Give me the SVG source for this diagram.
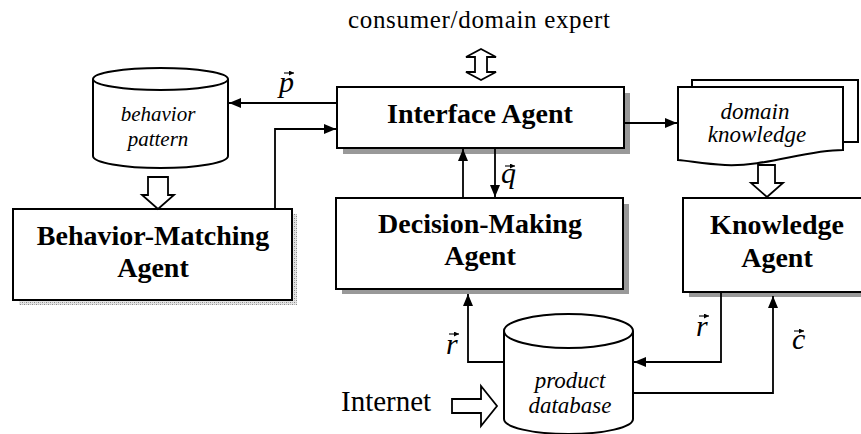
<svg xmlns="http://www.w3.org/2000/svg" width="861" height="434" viewBox="0 0 861 434">
  <defs>
    <marker id="arrow" viewBox="0 0 12 10" refX="12" refY="5" markerWidth="12" markerHeight="10" markerUnits="userSpaceOnUse" orient="auto">
      <path d="M0,0 L12,5 L0,10 Z" fill="#000"/>
    </marker>
    <marker id="vec" viewBox="0 0 6 6" refX="6" refY="3" markerWidth="5" markerHeight="5" markerUnits="userSpaceOnUse" orient="auto">
      <path d="M0,0 L6,3 L0,6 Z" fill="#000"/>
    </marker>
    <pattern id="grain" width="4" height="4" patternUnits="userSpaceOnUse">
      <rect width="4" height="4" fill="#e4e4e4"/>
      <rect x="0" y="0" width="1" height="1" fill="#8a8a8a"/>
      <rect x="2" y="2" width="1" height="1" fill="#8a8a8a"/>
      <rect x="2" y="0" width="1" height="1" fill="#b5b5b5"/>
      <rect x="0" y="2" width="1" height="1" fill="#b5b5b5"/>
    </pattern>
  </defs>
  <style>
    .box { fill: #fff; stroke: #000; stroke-width: 2; }
    .shadow { fill: #999; }
    .line { fill: none; stroke: #000; stroke-width: 1.8; }
    .hollow { fill: #fff; stroke: #000; stroke-width: 1.8; stroke-linejoin: miter; }
    .bold { font-family: "Liberation Serif", "Times New Roman", serif; font-weight: bold; font-size: 28px; text-anchor: middle; fill: #000; }
    .ital { font-family: "Liberation Serif", "Times New Roman", serif; font-style: italic; font-size: 23px; text-anchor: middle; fill: #000; }
    .plain { font-family: "Liberation Serif", "Times New Roman", serif; font-size: 25px; fill: #000; }
    .var { font-family: "Liberation Serif", "Times New Roman", serif; font-style: italic; font-size: 30px; fill: #000; }
    .acc { fill: none; stroke: #000; stroke-width: 1.1; }
  </style>

  <rect width="861" height="434" fill="#fff"/>

  <!-- top label and two-way exchange arrow -->
  <g id="user">
    <text class="plain" x="348" y="28" textLength="262" lengthAdjust="spacing">consumer/domain expert</text>
    <path class="hollow" d="M481,49 L496,57 L487,57 L487,72 L496,72 L481,80 L466,72 L475,72 L475,57 L466,57 Z"/>
  </g>

  <!-- behavior pattern store -->
  <g id="behavior-pattern">
    <path class="box" d="M93,79 V156 A67.5,12 0 0 0 228,156 V79"/>
    <ellipse class="box" cx="160.5" cy="79" rx="67.5" ry="11"/>
    <text class="ital" x="158" y="121" style="font-size:21px">behavior</text>
    <text class="ital" x="158" y="146" style="font-size:21px">pattern</text>
  </g>

  <!-- interface agent -->
  <g id="interface-agent">
    <rect class="shadow" x="343" y="93" width="287" height="61"/>
    <rect class="box" x="337" y="87" width="287" height="61"/>
    <text class="bold" x="480" y="123">Interface Agent</text>
  </g>

  <!-- domain knowledge document stack -->
  <g id="domain-knowledge">
    <rect class="box" x="692" y="80" width="166" height="62"/>
    <path class="box" d="M678,87 H843 V150 C805,150 765,167 725,165 C705,164 690,161 678,160 Z"/>
    <text class="ital" x="755" y="119">domain</text>
    <text class="ital" x="757" y="142">knowledge</text>
  </g>

  <!-- behavior-matching agent -->
  <g id="behavior-matching-agent">
    <rect x="19" y="214" width="278" height="91" fill="url(#grain)"/>
    <rect class="box" x="13" y="209" width="279" height="91"/>
    <text class="bold" x="153" y="245">Behavior-Matching</text>
    <text class="bold" x="153" y="277">Agent</text>
  </g>

  <!-- decision-making agent -->
  <g id="decision-making-agent">
    <rect class="shadow" x="342" y="204" width="287" height="90"/>
    <rect class="box" x="336" y="198" width="287" height="91"/>
    <text class="bold" x="480" y="233">Decision-Making</text>
    <text class="bold" x="480" y="265">Agent</text>
  </g>

  <!-- knowledge agent -->
  <g id="knowledge-agent">
    <rect class="shadow" x="689" y="204" width="180" height="93"/>
    <rect class="box" x="683" y="198" width="190" height="94"/>
    <text class="bold" x="777" y="234">Knowledge</text>
    <text class="bold" x="777" y="267">Agent</text>
  </g>

  <!-- product database -->
  <g id="product-database">
    <path class="box" d="M504,331 V419 A64.5,15 0 0 0 633,419 V331"/>
    <ellipse class="box" cx="568.5" cy="331" rx="64.5" ry="17"/>
    <text class="ital" x="570" y="388">product</text>
    <text class="ital" x="570" y="413">database</text>
  </g>

  <!-- internet source -->
  <g id="internet">
    <text class="plain" x="341" y="411" style="font-size:29px">Internet</text>
    <path class="hollow" d="M452,399 H481 V386 L497,406 L481,426 V413 H452 Z"/>
  </g>

  <!-- connectors -->
  <g id="connectors">
    <line class="line" x1="337" y1="103" x2="229" y2="103" marker-end="url(#arrow)"/>
    <polyline class="line" points="275,209 275,129 336,129" marker-end="url(#arrow)"/>
    <line class="line" x1="624" y1="123" x2="677" y2="123" marker-end="url(#arrow)"/>
    <line class="line" x1="463" y1="198" x2="463" y2="149" marker-end="url(#arrow)"/>
    <line class="line" x1="495" y1="148" x2="495" y2="197" marker-end="url(#arrow)"/>
    <polyline class="line" points="504,362 468,362 468,294" marker-end="url(#arrow)"/>
    <polyline class="line" points="721,292 721,362 634,362" marker-end="url(#arrow)"/>
    <polyline class="line" points="633,393 773,393 773,296" marker-end="url(#arrow)"/>
    <path class="hollow" d="M148,177 H168 V195 H174 L158,209 L142,195 H148 Z"/>
    <path class="hollow" d="M758,165 H775 V183 H783 L767,197 L751,183 H758 Z"/>
  </g>

  <!-- vector labels -->
  <g id="labels">
    <text class="var" x="279" y="92">p</text>
    <line class="acc" x1="284" y1="73" x2="294" y2="73" marker-end="url(#vec)"/>
    <text class="var" x="501" y="183">q</text>
    <line class="acc" x1="505" y1="166" x2="515" y2="166" marker-end="url(#vec)"/>
    <text class="var" x="446" y="354">r</text>
    <line class="acc" x1="449" y1="334" x2="459" y2="334" marker-end="url(#vec)"/>
    <text class="var" x="696" y="336">r</text>
    <line class="acc" x1="699" y1="316" x2="709" y2="316" marker-end="url(#vec)"/>
    <text class="var" x="792" y="349">c</text>
    <line class="acc" x1="794" y1="331" x2="804" y2="331" marker-end="url(#vec)"/>
  </g>
</svg>
